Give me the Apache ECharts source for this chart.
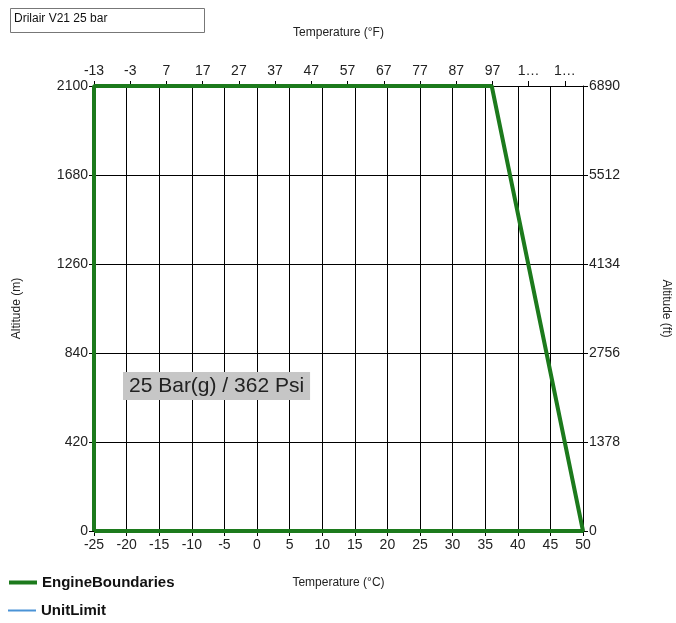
<!DOCTYPE html>
<html>
<head>
<meta charset="utf-8">
<script src="https://cdn.jsdelivr.net/npm/echarts@6/dist/echarts.min.js"></script>
<style>
  html, body { margin: 0; padding: 0; background: #fff; }
  #chart { width: 676px; height: 623px; }
</style>
</head>
<body>
<div id="chart"></div>
<script>
// engine boundary polygon (°C, m)
const boundaryTemp = [-25, -25, 36, 50, -25];
const boundaryAlt = [0, 2100, 2100, 0, 0];
// unit limit has no points in this chart
const unitLimit = [];

// axis ranges [min, max, interval]
const tempCRange = [-25, 50, 5];
const tempFRange = [-13, 122, 10];
const altMRange = [0, 2100, 420];
const altFtRange = [0, 6890, 1378];

const chartTitle = 'Drilair V21 25 bar';
const pressureNote = '25 Bar(g) / 362 Psi';

const font = 'Liberation Sans';
const textCol = '#222';

const chart = echarts.init(document.getElementById('chart'));

const axisCommon = {
  type: 'value',
  axisLine: { show: true, onZero: false, lineStyle: { color: '#000', width: 1 } },
  axisTick: { show: true, inside: false, length: 5, lineStyle: { color: '#000' } },
  axisLabel: { color: textCol, fontFamily: font, fontSize: 14, formatter: v => String(v) },
  nameTextStyle: { color: textCol, fontFamily: font, fontSize: 12 },
  nameLocation: 'middle'
};

const legendCommon = {
  orient: 'vertical',
  left: 2,
  itemWidth: 28,
  itemHeight: 12,
  itemStyle: { opacity: 0 },
  textStyle: { fontFamily: font, fontSize: 15, fontWeight: 'bold', color: '#111' }
};

const option = {
  backgroundColor: '#fff',
  animation: false,
  grid: { left: 94, right: 93, top: 86, bottom: 92, containLabel: false, outerBoundsMode: 'none' },
  legend: [
    Object.assign({}, legendCommon, { top: 570, data: ['EngineBoundaries'], lineStyle: { width: 4 } }),
    Object.assign({}, legendCommon, { top: 598, data: ['UnitLimit'], lineStyle: { width: 2 } })
  ],
  xAxis: [
    Object.assign({}, axisCommon, {
      position: 'bottom',
      min: tempCRange[0], max: tempCRange[1], interval: tempCRange[2],
      name: 'Temperature (°C)', nameGap: 46,
      splitLine: { show: true, lineStyle: { color: '#000', width: 1 } },
      axisLabel: Object.assign({}, axisCommon.axisLabel, { margin: 7 })
    }),
    Object.assign({}, axisCommon, {
      position: 'top',
      min: tempFRange[0], max: tempFRange[1], interval: tempFRange[2],
      name: 'Temperature (°F)', nameGap: 47,
      splitLine: { show: false },
      axisLabel: Object.assign({}, axisCommon.axisLabel, {
        margin: 8,
        showMaxLabel: false,
        formatter: v => (v >= 100 ? String(v).charAt(0) + '…' : String(v))
      })
    })
  ],
  yAxis: [
    Object.assign({}, axisCommon, {
      position: 'left',
      min: altMRange[0], max: altMRange[1], interval: altMRange[2],
      name: 'Altitude (m)', nameGap: 71,
      splitLine: { show: true, lineStyle: { color: '#000', width: 1 } },
      axisLabel: Object.assign({}, axisCommon.axisLabel, { margin: 6 })
    }),
    Object.assign({}, axisCommon, {
      position: 'right',
      min: altFtRange[0], max: altFtRange[1], interval: altFtRange[2],
      name: 'Altitude (ft)', nameGap: 77, nameRotate: -90,
      splitLine: { show: false },
      axisLabel: Object.assign({}, axisCommon.axisLabel, { margin: 6 })
    })
  ],
  series: [
    {
      name: 'EngineBoundaries',
      type: 'line',
      symbol: 'none',
      z: 5,
      color: '#1c7a1c',
      lineStyle: { color: '#1c7a1c', width: 4 },
      data: boundaryTemp.map((t, i) => [t, boundaryAlt[i]])
    },
    {
      name: 'UnitLimit',
      type: 'line',
      symbol: 'none',
      color: '#4a93d6',
      lineStyle: { color: '#4a93d6', width: 2 },
      data: unitLimit
    }
  ],
  graphic: [
    {
      type: 'rect',
      left: 10, top: 8,
      shape: { width: 194, height: 24 },
      style: { fill: '#fff', stroke: '#777', lineWidth: 1 }
    },
    {
      type: 'text',
      left: 14, top: 13,
      style: { text: chartTitle, font: '12px "Liberation Sans"', fill: '#111' }
    },
    {
      type: 'text',
      left: 123, top: 372,
      z: 10,
      style: {
        text: pressureNote,
        font: '21px "Liberation Sans"',
        fill: '#222',
        backgroundColor: '#c6c6c6',
        padding: [4, 6, 3, 6]
      }
    }
  ]
};

chart.setOption(option);
</script>
</body>
</html>
